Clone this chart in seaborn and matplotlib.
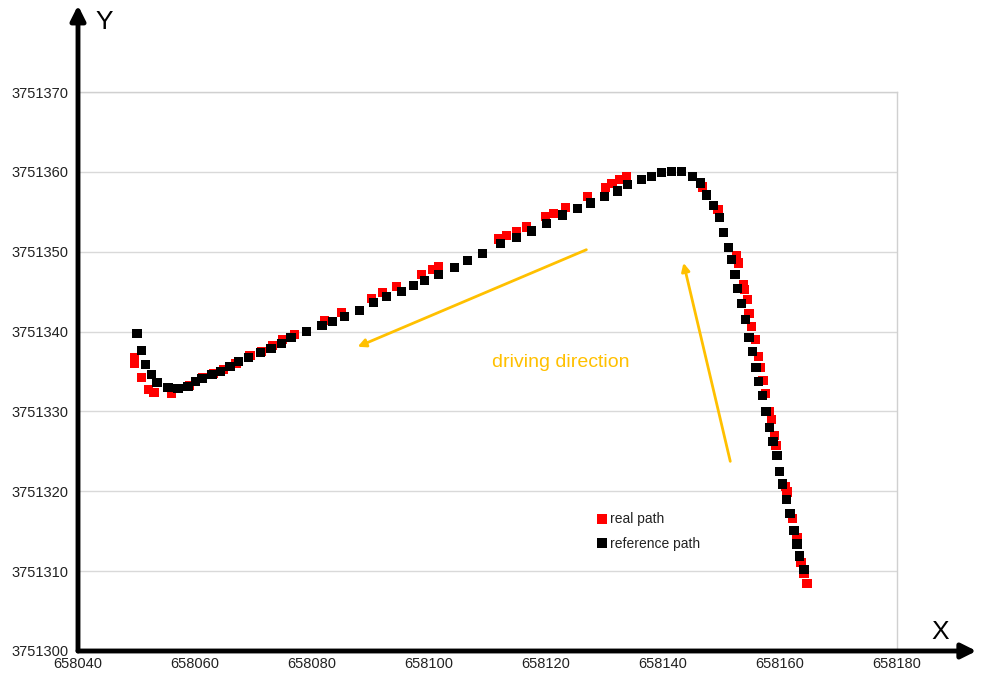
import matplotlib
matplotlib.use("Agg")
import matplotlib.pyplot as plt
import seaborn as sns
import pandas as pd

# ---- data ----
real_x = [658049.6, 658049.7, 658050.8, 658052.1, 658053.0, 658056.0, 658059.1, 658061.3,
          658063.2, 658064.9, 658067.0, 658069.4, 658071.4, 658073.3, 658075.0, 658077.05,
          658082.2, 658085.1, 658090.2, 658092.1, 658094.5, 658098.7, 658100.6, 658101.6,
          658111.9, 658113.2, 658115.0, 658116.7, 658119.9, 658121.3, 658123.3, 658127.1,
          658130.15, 658131.3, 658132.5, 658133.7, 658146.7, 658149.4, 658152.5, 658152.9,
          658153.7, 658153.9, 658154.4, 658154.7, 658155.1, 658155.8, 658156.3, 658156.6,
          658157.1, 658157.5, 658158.15, 658158.5, 658159.0, 658159.3, 658160.9, 658161.2,
          658162.1, 658162.9, 658163.6, 658164.1, 658164.6]
real_y = [3751336.75, 3751336.0, 3751334.25, 3751332.75, 3751332.4, 3751332.25, 3751333.25, 3751334.25,
          3751334.75, 3751335.25, 3751336.0, 3751337.0, 3751337.5, 3751338.25, 3751339.0, 3751339.6,
          3751341.4, 3751342.4, 3751344.1, 3751344.9, 3751345.6, 3751347.1, 3751347.75, 3751348.1,
          3751351.6, 3751352.0, 3751352.5, 3751353.1, 3751354.4, 3751354.75, 3751355.5, 3751356.9,
          3751358.0, 3751358.5, 3751359.0, 3751359.4, 3751358.1, 3751355.25, 3751349.5, 3751348.6,
          3751345.9, 3751345.25, 3751344.0, 3751342.25, 3751340.6, 3751339.0, 3751336.9, 3751335.5,
          3751333.9, 3751332.25, 3751330.0, 3751329.0, 3751327.0, 3751325.75, 3751320.6, 3751319.9,
          3751316.6, 3751314.25, 3751311.1, 3751309.75, 3751308.5]

ref_x = [658050.1, 658050.8, 658051.6, 658052.5, 658053.5, 658055.4, 658057.1, 658058.8,
         658060.1, 658061.2, 658062.9, 658064.4, 658066.0, 658067.5, 658069.2, 658071.2,
         658073.0, 658074.8, 658076.4, 658079.1, 658081.7, 658083.5, 658085.6, 658088.1,
         658090.5, 658092.8, 658095.3, 658097.4, 658099.2, 658101.6, 658104.4, 658106.6,
         658109.1, 658112.2, 658115.0, 658117.5, 658120.1, 658122.8, 658125.4, 658127.6,
         658130.0, 658132.2, 658133.9, 658136.3, 658138.0, 658139.7, 658141.4, 658143.1,
         658145.0, 658146.4, 658147.4, 658148.6, 658149.6, 658150.3, 658151.2, 658151.7,
         658152.3, 658152.7, 658153.4, 658154.1, 658154.7, 658155.3, 658155.9, 658156.3,
         658157.0, 658157.6, 658158.2, 658158.8, 658159.5, 658159.9, 658160.4, 658161.05,
         658161.7, 658162.4, 658162.9, 658163.4, 658164.1]
ref_y = [3751339.8, 3751337.6, 3751335.9, 3751334.6, 3751333.6, 3751333.0, 3751332.9, 3751333.1,
         3751333.75, 3751334.1, 3751334.6, 3751335.0, 3751335.6, 3751336.25, 3751336.75, 3751337.4,
         3751337.9, 3751338.5, 3751339.25, 3751340.0, 3751340.75, 3751341.25, 3751341.9, 3751342.6,
         3751343.6, 3751344.4, 3751345.0, 3751345.75, 3751346.4, 3751347.1, 3751348.0, 3751348.9,
         3751349.75, 3751351.0, 3751351.75, 3751352.6, 3751353.5, 3751354.6, 3751355.4, 3751356.1,
         3751356.9, 3751357.6, 3751358.4, 3751359.0, 3751359.4, 3751359.9, 3751360.0, 3751360.0,
         3751359.4, 3751358.6, 3751357.1, 3751355.75, 3751354.25, 3751352.4, 3751350.5, 3751349.0,
         3751347.1, 3751345.4, 3751343.5, 3751341.5, 3751339.25, 3751337.5, 3751335.5, 3751333.75,
         3751332.0, 3751330.0, 3751328.0, 3751326.25, 3751324.5, 3751322.5, 3751320.9, 3751319.0,
         3751317.25, 3751315.1, 3751313.4, 3751311.9, 3751310.25]

series_names = ["real path", "reference path"]
x_ticks = [658040, 658060, 658080, 658100, 658120, 658140, 658160, 658180]
y_ticks = [3751300, 3751310, 3751320, 3751330, 3751340, 3751350, 3751360, 3751370]

# annotation arrows (data coordinates): (start, end)
dir_arrows = [((658126.9, 3751350.25), (658087.8, 3751338.1)),
              ((658151.5, 3751323.75), (658143.5, 3751348.6))]
dir_text = "driving direction"
dir_text_pos = (658122.6, 3751336.1)

# ---- figure ----
sns.set_theme(style="white")
plt.rcParams["font.family"] = ["Liberation Sans", "DejaVu Sans"]

df = pd.concat([
    pd.DataFrame({"x": real_x, "y": real_y, "path": series_names[0]}),
    pd.DataFrame({"x": ref_x, "y": ref_y, "path": series_names[1]}),
], ignore_index=True)

fig = plt.figure(figsize=(9.82, 6.82), dpi=100)
ax = fig.add_axes([78 / 982, 31 / 682, 819 / 982, 559 / 682])

sns.scatterplot(data=df, x="x", y="y", hue="path",
                palette={series_names[0]: "#ff0000", series_names[1]: "#000000"},
                marker="s", s=44, linewidth=0, ax=ax, legend=True)

ax.set_xlim(x_ticks[0], x_ticks[-1])
ax.set_ylim(y_ticks[0], y_ticks[-1])
ax.set_xticks(x_ticks)
ax.set_yticks(y_ticks)
ax.ticklabel_format(useOffset=False, style="plain")
ax.set_xlabel("")
ax.set_ylabel("")
ax.tick_params(axis="both", length=0, labelsize=10.5, labelcolor="#222222")
ax.tick_params(axis="y", pad=7)
ax.tick_params(axis="x", pad=4)

ax.yaxis.grid(True, color="#d9d9d9", lw=1)
ax.xaxis.grid(False)
for side in ["top", "right"]:
    ax.spines[side].set_color("#d0d0d0")
    ax.spines[side].set_linewidth(1)
for side in ["left", "bottom"]:
    ax.spines[side].set_visible(False)

# big axis arrows
ax.annotate("", xy=(0, 1.155), xytext=(0, 0), xycoords="axes fraction",
            arrowprops=dict(arrowstyle="-|>", lw=3.5, color="black",
                            mutation_scale=22, shrinkA=0, shrinkB=0),
            annotation_clip=False)
ax.annotate("", xy=(1.097, 0), xytext=(0, 0), xycoords="axes fraction",
            arrowprops=dict(arrowstyle="-|>", lw=3.5, color="black",
                            mutation_scale=22, shrinkA=0, shrinkB=0),
            annotation_clip=False)
fig.text(104 / 982, 1 - 22 / 682, "Y", fontsize=19, ha="center", va="center", color="black")
fig.text(940 / 982, 1 - 632 / 682, "X", fontsize=19, ha="center", va="center", color="black")

# driving direction arrows
for (s, e) in dir_arrows:
    ax.annotate("", xy=e, xytext=s,
                arrowprops=dict(arrowstyle="-|>", lw=2, color="#ffc000",
                                mutation_scale=12, shrinkA=0, shrinkB=0))
ax.text(dir_text_pos[0], dir_text_pos[1], dir_text, color="#ffc000",
        fontsize=14, ha="center", va="center")

leg = ax.legend(loc="upper left", bbox_to_anchor=(0.632, 0.248), frameon=False,
                fontsize=10, handletextpad=0.15, handlelength=0.9, labelspacing=0.75,
                markerscale=1.0, borderaxespad=0, borderpad=0)
for t in leg.get_texts():
    t.set_color("#222222")

fig.savefig("out.png", dpi=100)
